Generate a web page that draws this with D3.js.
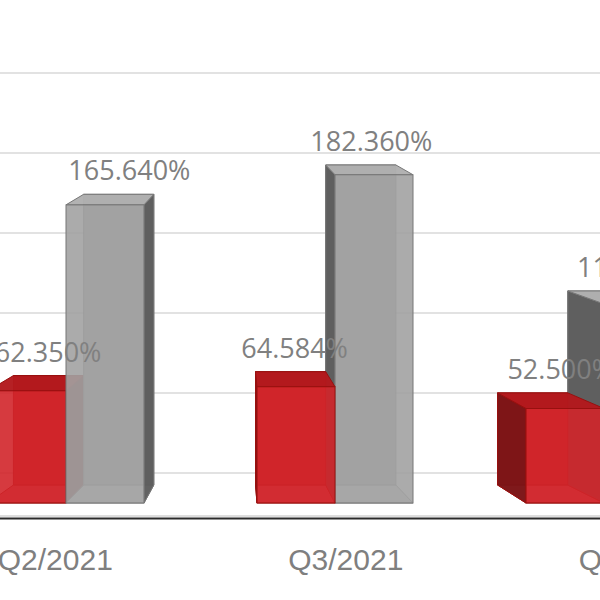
<!DOCTYPE html>
<html>
<head>
<meta charset="utf-8">
<script src="https://cdn.jsdelivr.net/npm/d3@7/dist/d3.min.js"></script>
<style>
  html, body { margin: 0; padding: 0; background: #fff; }
  svg { display: block; }
</style>
</head>
<body>
<div id="chart"></div>
<script>
// ---- data ----
const categories = ["Q2/2021", "Q3/2021", "Q4/2021"];
const seriesNames = ["Series A", "Series B"];
const redValues  = [62.350, 64.584, 52.500];
const grayValues = [165.640, 182.360, 110.580];
const wallTicks  = [0, 50, 100, 150, 200, 250];

// ---- layout ----
const W = 600, H = 600;
const svg = d3.select("#chart").append("svg").attr("width", W).attr("height", H);
svg.append("rect").attr("width", W).attr("height", H).attr("fill", "#fff");

// scales
const xGroup = d3.scalePoint().domain(categories).range([66, 604]);
const barW = 78;
const yFront = d3.scaleLinear().domain([0, 200]).range([503, 143]);
const yWall = d3.scaleLinear().domain([0, 250]).range([473, 73]);

// perspective of the back faces
const VX = 242, SX = 0.9, VY = -216, SY = 0.975;
const bx = x => VX + (x - VX) * SX;
const by = y => VY + (y - VY) * SY;

// back wall gridlines
svg.append("g").selectAll("line").data(wallTicks).join("line")
  .attr("x1", 0).attr("x2", W)
  .attr("y1", d => yWall(d)).attr("y2", d => yWall(d))
  .attr("stroke", "#d9d9d9").attr("stroke-width", 1.6);

// category axis line
svg.append("line").attr("x1", 0).attr("x2", W).attr("y1", 516).attr("y2", 516)
  .attr("stroke", "#bdbdbd").attr("stroke-width", 1);
svg.append("line").attr("x1", 0).attr("x2", W).attr("y1", 518.5).attr("y2", 518.5)
  .attr("stroke", "#2b2b2b").attr("stroke-width", 2.2);

// bar definitions
const palettes = [
  { front: "#d2252a", top: "#b3191d", side: "#7a1416", back: "#c01e22", stroke: "#98100f" },
  { front: "#a2a2a2", top: "#b0b0b0", side: "#5c5c5c", back: "#9a9a9a", stroke: "#777777" }
];
const bars = [];
categories.forEach((c, i) => {
  const cx = xGroup(c);
  [redValues[i], grayValues[i]].forEach((v, s) => {
    const x0 = s === 0 ? cx - barW : cx;
    const x1 = x0 + barW;
    bars.push({ cat: c, s, v, x0, x1, yT: yFront(v), yB: yFront(0), pal: palettes[s] });
  });
});
// draw bars farthest (horizontally) from the vanishing point first
bars.sort((a, b) => Math.abs((b.x0 + b.x1) / 2 - VX) - Math.abs((a.x0 + a.x1) / 2 - VX));

const pts = arr => arr.map(p => p.join(",")).join(" ");
const gBars = svg.append("g");
bars.forEach(b => {
  const g = gBars.append("g");
  const X0 = bx(b.x0), X1 = bx(b.x1), YT = by(b.yT), YB = by(b.yB);
  // back face and bottom (seen through the translucent front)
  g.append("polygon").attr("points", pts([[X0, YT], [X1, YT], [X1, YB], [X0, YB]]))
    .attr("fill", b.pal.back).attr("fill-opacity", 0.95)
    .attr("stroke", b.pal.stroke).attr("stroke-width", 1);
  g.append("polygon").attr("points", pts([[b.x0, b.yB], [b.x1, b.yB], [X1, YB], [X0, YB]]))
    .attr("fill", b.pal.top).attr("fill-opacity", 0.6)
    .attr("stroke", b.pal.stroke).attr("stroke-width", 1);
  // side face
  let side = null;
  if (VX < b.x0) side = [[b.x0, b.yT], [X0, YT], [X0, YB], [b.x0, b.yB]];
  else if (VX > b.x1) side = [[b.x1, b.yT], [X1, YT], [X1, YB], [b.x1, b.yB]];
  if (side) g.append("polygon").attr("points", pts(side))
    .attr("fill", b.pal.side).attr("fill-opacity", 0.95)
    .attr("stroke", b.pal.stroke).attr("stroke-width", 1);
  // top face
  g.append("polygon").attr("points", pts([[b.x0, b.yT], [b.x1, b.yT], [X1, YT], [X0, YT]]))
    .attr("fill", b.pal.top).attr("fill-opacity", 0.97)
    .attr("stroke", b.pal.stroke).attr("stroke-width", 1);
  // front face
  g.append("rect").attr("x", b.x0).attr("y", b.yT)
    .attr("width", b.x1 - b.x0).attr("height", b.yB - b.yT)
    .attr("fill", b.pal.front).attr("fill-opacity", 0.9)
    .attr("stroke", b.pal.stroke).attr("stroke-width", 1);
});

// data labels
const labelShift = d3.scaleLinear().domain([0, 120, 300, 650]).range([20, 25, -2, -5]).clamp(true);
svg.append("g").selectAll("text").data(bars).join("text")
  .attr("x", b => { const fc = (b.x0 + b.x1) / 2; return fc + labelShift(fc); })
  .attr("y", b => by(b.yT) - 14)
  .attr("text-anchor", "middle")
  .attr("font-family", "'Open Sans', 'Noto Sans', sans-serif")
  .attr("font-size", 27)
  .attr("fill", "#808080")
  .text(b => b.v.toFixed(3) + "%");

// category labels (front edge of the floor)
svg.append("g").selectAll("text").data(categories).join("text")
  .attr("x", c => 200 + (xGroup(c) - 200) * 1.08)
  .attr("y", 570)
  .attr("text-anchor", "middle")
  .attr("font-family", "'Liberation Sans', Arial, sans-serif")
  .attr("font-size", 30)
  .attr("fill", "#7f7f7f")
  .text(c => c);
</script>
</body>
</html>
